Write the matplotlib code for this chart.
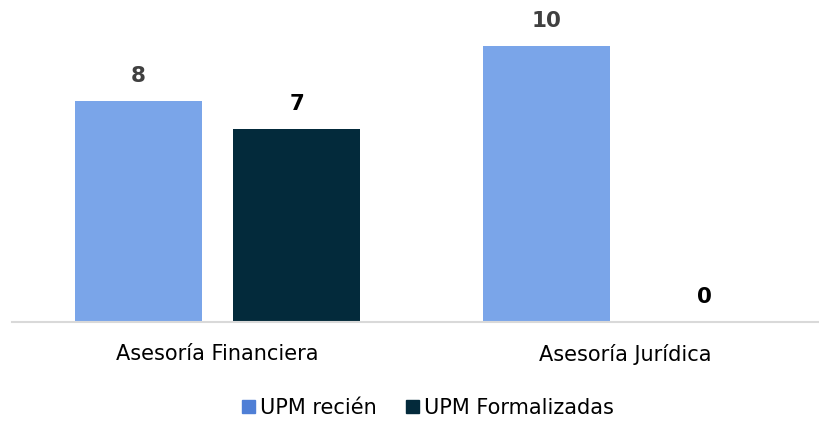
import matplotlib.pyplot as plt
import matplotlib.patheffects as pe
import numpy as np

categories = ["Asesoría Financiera", "Asesoría Jurídica"]
series_names = ["UPM recién", "UPM Formalizadas"]
upm_recien = [8, 10]
upm_formalizadas = [7, 0]

colors = ["#7AA5E9", "#032A3B"]
label_colors = ["#404040", "#000000"]
legend_colors = ["#4F7FD6", "#032A3B"]

fig = plt.figure(figsize=(8.2, 4.22), dpi=100)
ax = fig.add_axes([12 / 820, 100 / 422, 808 / 820, 322 / 422])

x = np.arange(len(categories))
width = 0.311
offset = 0.194
shadow = [pe.SimplePatchShadow(offset=(0, -1.5), shadow_rgbFace="#999999", alpha=0.35), pe.Normal()]

for i, (vals, off) in enumerate(zip([upm_recien, upm_formalizadas], [-offset, offset])):
    bars = ax.bar(x + off, vals, width, color=colors[i], label=series_names[i], path_effects=shadow)
    for b, v in zip(bars, vals):
        ax.text(b.get_x() + b.get_width() / 2, v + 0.55, str(v), ha="center", va="bottom",
                fontsize=15.5, fontweight="bold", color=label_colors[i])

ax.set_xlim(-0.504, 1.477)
ax.set_ylim(0, 11.67)
ax.set_xticks(x)
ax.set_xticklabels(categories, fontsize=15)
ax.tick_params(axis="x", length=0, pad=16)
ax.set_yticks([])
for s in ["top", "right", "left"]:
    ax.spines[s].set_visible(False)
ax.spines["bottom"].set_color("#D9D9D9")
ax.spines["bottom"].set_linewidth(1.5)

handles = [plt.Rectangle((0, 0), 1, 1, color=c) for c in legend_colors]
fig.legend(handles, series_names, loc="center", bbox_to_anchor=(428 / 820, 1 - 408 / 422),
           ncol=2, frameon=False, fontsize=15, handlelength=0.6, handleheight=0.6,
           handletextpad=0.25, columnspacing=1.4)

plt.savefig("out.png", dpi=100)
